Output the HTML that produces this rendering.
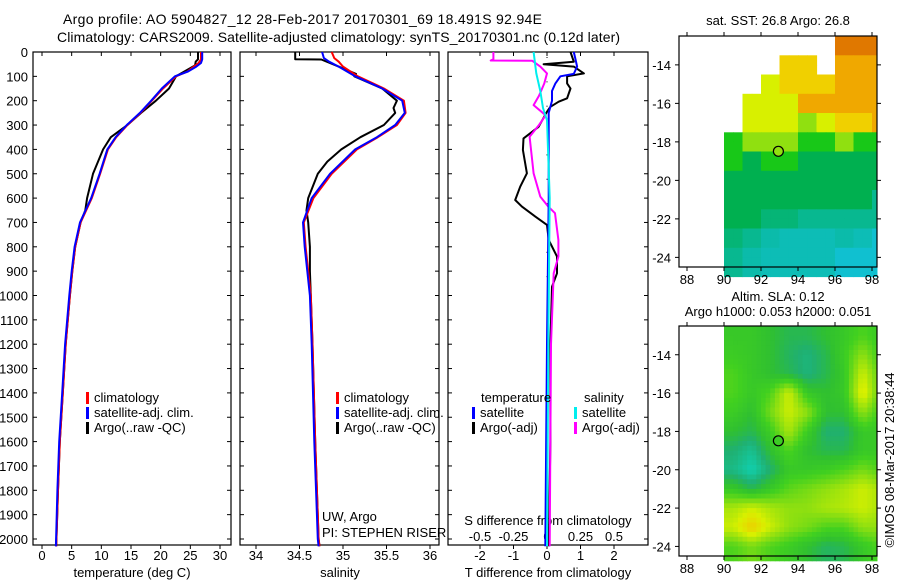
<!DOCTYPE html>
<html><head><meta charset="utf-8"><style>
body{margin:0;background:#fff}
svg{display:block;font-family:"Liberation Sans",sans-serif;font-size:13px}
</style></head><body>
<svg id="c" width="900" height="580" viewBox="0 0 900 580">
<text x="63" y="24" font-size="14" textLength="479">Argo profile: AO 5904827_12 28-Feb-2017 20170301_69 18.491S 92.94E</text>
<text x="57" y="42" font-size="14" textLength="563">Climatology: CARS2009. Satellite-adjusted climatology: synTS_20170301.nc (0.12d later)</text>
<g id="g"></g>
</svg>
<script>
// ---------- data ----------
const depthTicks=[0,100,200,300,400,500,600,700,800,900,1000,1100,1200,1300,1400,1500,1600,1700,1800,1900,2000];
const tTicks=[0,5,10,15,20,25,30];
const sTicks=[34,34.5,35,35.5,36];
const tdTicks=[-2,-1,0,1,2];
const sdTicks=[-0.5,-0.25,0,0.25,0.5];
const sdTickLabels=['-0.5','-0.25','0','0.25','0.5'];
const tClimD=[0,30,45,60,80,100,150,200,250,300,350,400,500,600,700,800,900,1000,1200,1400,1600,1800,2030];
const tClimV=[26.8,26.8,26.4,25.6,24.5,22.6,20.4,18.5,16.6,14.4,12.5,11.1,9.8,8.4,6.5,5.6,5.1,4.7,4.0,3.5,3.0,2.7,2.4];
const tSatV=[27.0,27.0,26.8,26.0,24.6,22.4,20.2,18.4,16.5,14.3,12.4,11.0,9.7,8.3,6.4,5.5,5.0,4.6,3.9,3.4,2.9,2.6,2.35];
const tArgoD=[0,30,40,55,80,100,150,200,250,300,350,400,500,600,650,700,800,900,1000,1200,1400,1600,1800,2030];
const tArgoV=[26.3,26.3,25.9,25.8,24.0,22.6,21.4,19.2,16.7,14.4,11.6,10.3,8.6,7.6,7.3,6.5,5.6,5.1,4.7,4.0,3.5,3.0,2.7,2.4];
const sClimD=[0,25,40,60,100,150,200,250,300,350,400,500,600,700,800,900,1000,1200,1600,2000,2030];
const sClimV=[34.87,34.9,34.95,35.0,35.17,35.47,35.7,35.72,35.62,35.4,35.16,34.87,34.66,34.55,34.57,34.6,34.63,34.65,34.68,34.72,34.73];
const sSatV=[34.76,34.78,34.84,34.95,35.14,35.45,35.68,35.71,35.6,35.39,35.14,34.85,34.64,34.54,34.56,34.59,34.62,34.64,34.67,34.71,34.72];
const sArgoD=[0,30,31,60,90,100,150,200,230,250,300,350,400,450,500,600,650,700,800,900,1000,1200,1600,2000,2030];
const sArgoV=[34.45,34.45,34.75,34.95,35.15,35.13,35.45,35.62,35.58,35.6,35.47,35.2,34.98,34.82,34.71,34.6,34.58,34.6,34.62,34.62,34.63,34.65,34.68,34.72,34.73];
const dTArgoD=[0,40,50,60,88,100,129,150,190,204,225,245,307,355,402,498,553,608,635,676,710,772,840,909,964,1200,1600,2030];
const dTArgoV=[0.7,0.8,-0.1,0.8,1.1,0.6,0.6,0.7,0.6,0.35,0.1,0,-0.25,-0.7,-0.72,-0.6,-0.8,-0.95,-0.75,-0.35,0,0.05,0.3,0.3,0.15,0.1,0.1,0.05];
const dTSatD=[0,30,60,90,100,129,160,200,250,600,1200,2030];
const dTSatV=[0.8,0.85,0.9,0.8,0.4,0.25,0.15,0.15,0.05,0.05,0.0,-0.05];
const dSArgoD=[0,30,35,36,60,88,129,180,218,260,300,348,498,594,635,662,772,840,909,1200,2030];
const dSArgoV=[-0.4,-0.4,-0.42,-0.11,-0.05,0.0,-0.02,-0.06,-0.1,-0.01,-0.06,-0.13,-0.1,-0.05,0.01,0.06,0.085,0.085,0.05,0.03,0.02];
const dSSatD=[0,88,160,230,280,600,1200,2030];
const dSSatV=[-0.1,-0.08,-0.05,-0.03,0.0,0.02,0.01,0.0];
const mapLonTicks=[88,90,92,94,96,98];
const mapLatTicks=[-14,-16,-18,-20,-22,-24];
// SST category grid, rows lat -13..-24 (centre), cols lon 90.5..98 ; 0 = missing
const sstRows=[
[0,0,0,0,0,0,8,8,8],
[0,0,0,6,6,0,7,7,7],
[0,0,5,6,6,6,7,7,7],
[0,5,5,5,7,7,7,7,7],
[0,5,5,5,4,5,6,6,7],
[3,4,4,4,3,3,4,3,3],
[3,2,3,3,2,2,2,2,2],
[2,2,2,2,2,2,2,2,2],
[2,2,2,2,2,2,2,2,1.5],
[2,2,1.7,1.7,1.5,1.5,1.5,1.5,1.5],
[1.7,1.5,1.3,1.2,1.2,1.2,1.3,1.2,1.0],
[1.5,1.3,1.2,1.2,1.2,1.2,1,0.8,0.6]];
const slaRows=[
[1.2,1.2,1,0.8,0.8,1,1.2,1.5,1.2],
[1.3,1.2,1,0.7,0.5,0.8,1.3,2,1.3],
[1.5,1.2,1,0.8,0.5,0.8,1.2,2.5,1.5],
[1.5,1.2,1.5,2.5,1.2,1,1.2,2.8,1.5],
[1.3,1,1.8,2.5,2,1,1,2,1.3],
[1,0.8,1.3,2.2,1.3,0.6,0.6,1.2,1.2],
[0.6,0.3,1,1.5,1,0.8,0.8,1.2,1.2],
[0.4,0,0.6,1.2,1.2,1.3,1.5,1.8,1.5],
[1.2,0.8,1.2,1.6,1.8,2,2.2,2.5,2.2],
[2.2,2.5,2.2,2,2,2.2,2.3,2.5,2.2],
[2.5,3.2,2.5,2,1.8,1.5,1.5,2,2],
[1.5,1.8,1.5,1.3,1,0.7,0.8,1.2,1.5]];
const argoLon=92.94, argoLat=-18.49;

// ---------- helpers ----------
const NS='http://www.w3.org/2000/svg';
const G=document.getElementById('g');
function mk(tag,attrs,parent){const e=document.createElementNS(NS,tag);for(const k in attrs)e.setAttribute(k,attrs[k]);(parent||G).appendChild(e);return e;}
function txt(x,y,s,anchor,parent,size){const t=mk('text',{x:x,y:y,'text-anchor':anchor||'middle'},parent);if(size)t.setAttribute('font-size',size);t.textContent=s;return t;}
const PT=52,PB=545;
const yD=d=>PT+d*0.2435;
const xT=v=>42+v*5.933;
const xS=v=>256+(v-34)*87;
const xdT=v=>547+v*33.5;
const xdS=v=>547+v*134;

function frame(x0,x1,name){
  const r=mk('rect',{x:x0,y:PT,width:x1-x0,height:PB-PT,fill:'none',stroke:'#000','stroke-width':1.2});
  
  
}
function line(D,V,fx,color,name){
  const p=D.map((d,i)=>(i?'L':'M')+fx(V[i]).toFixed(1)+','+yD(d).toFixed(1)).join('');
  const e=mk('path',{d:p,fill:'none',stroke:color,'stroke-width':2,'stroke-linejoin':'round'});
  
  
}
function xticks(vals,labels,fx,y,name){
  vals.forEach((v,i)=>{
    mk('line',{x1:fx(v),x2:fx(v),y1:PB,y2:PB+4,stroke:'#000'});
    mk('line',{x1:fx(v),x2:fx(v),y1:PT,y2:PT+4,stroke:'#000'});
    const t=txt(fx(v),y,labels[i]);
    
    
  });
}
function legendItem(x,y,color,label,name){
  mk('rect',{x:x,y:y-10,width:3,height:12,fill:color});
  const t=txt(x+8,y,label,'start');
  
  
}

// ---------- panel 1 temperature ----------
frame(33,231,'temperature-panel');
depthTicks.forEach(d=>{
  mk('line',{x1:33,x2:37,y1:yD(d),y2:yD(d),stroke:'#000'});
  mk('line',{x1:227,x2:231,y1:yD(d),y2:yD(d),stroke:'#000'});
  const t=txt(28,yD(d)+5,String(d),'end');
  
  
});
xticks(tTicks,tTicks.map(String),xT,560,'temperature-tick-label');
txt(132,577,'temperature (deg C)');
line(tArgoD,tArgoV,xT,'#000','temperature-argo-line');
line(tClimD,tClimV,xT,'#f00','temperature-climatology-line');
line(tClimD,tSatV,xT,'#00f','temperature-satellite-line');
legendItem(86,402,'#f00','climatology','legend-climatology');
legendItem(86,417,'#00f','satellite-adj. clim.','legend-satellite-adj');
legendItem(86,432,'#000','Argo(..raw -QC)','legend-argo');

// ---------- panel 2 salinity ----------
frame(240,439,'salinity-panel');
depthTicks.forEach(d=>{
  mk('line',{x1:240,x2:244,y1:yD(d),y2:yD(d),stroke:'#000'});
  mk('line',{x1:435,x2:439,y1:yD(d),y2:yD(d),stroke:'#000'});
});
xticks(sTicks,sTicks.map(String),xS,560,'salinity-tick-label');
txt(340,577,'salinity');
line(sArgoD,sArgoV,xS,'#000','salinity-argo-line');
line(sClimD,sClimV,xS,'#f00','salinity-climatology-line');
line(sClimD,sSatV,xS,'#00f','salinity-satellite-line');
legendItem(336,402,'#f00','climatology','legend-climatology-s');
legendItem(336,417,'#00f','satellite-adj. clim.','legend-satellite-adj-s');
legendItem(336,432,'#000','Argo(..raw -QC)','legend-argo-s');
txt(322,521,'UW, Argo','start');
txt(322,537,'PI: STEPHEN RISER','start');

// ---------- panel 3 differences ----------
frame(448,648,'difference-panel');
depthTicks.forEach(d=>{
  mk('line',{x1:448,x2:452,y1:yD(d),y2:yD(d),stroke:'#000'});
  mk('line',{x1:644,x2:648,y1:yD(d),y2:yD(d),stroke:'#000'});
  mk('rect',{x:546.5,y:yD(d)+5,width:1,height:1,fill:'#000'});
});
xticks(tdTicks,tdTicks.map(String),xdT,560,'t-diff-tick-label');
sdTicks.forEach((v,i)=>{const t=txt(xdS(v),541,sdTickLabels[i]);});
txt(548,525,'S difference from climatology');
txt(548,577,'T difference from climatology');
line(dTArgoD,dTArgoV,xdT,'#000','t-diff-argo-line');
line(dSArgoD,dSArgoV,xdS,'#f0f','s-diff-argo-line');
line(dTSatD,dTSatV,xdT,'#00f','t-diff-satellite-line');
line(dSSatD,dSSatV,xdS,'#0ee','s-diff-satellite-line');
txt(481,402,'temperature','start');
txt(584,402,'salinity','start');
legendItem(472,417,'#00f','satellite','legend-t-satellite');
legendItem(472,432,'#000','Argo(-adj)','legend-t-argo');
legendItem(574,417,'#0ee','satellite','legend-s-satellite');
legendItem(574,432,'#f0f','Argo(-adj)','legend-s-argo');

// ---------- maps ----------
const sstCols=['#ffffff','#10c0d0','#00b050','#18c818','#90e010','#d8f000','#f0d000','#f0a800','#e07800'];
function lerpC(a,b,t){const pa=[1,3,5].map(i=>parseInt(a.substr(i,2),16)),pb=[1,3,5].map(i=>parseInt(b.substr(i,2),16));return 'rgb('+pa.map((v,i)=>Math.round(v+(pb[i]-v)*t)).join(',')+')';}
function sstColor(v){const i=Math.floor(v),f=v-i;if(i>=8)return sstCols[8];return lerpC(sstCols[Math.max(i,1)],sstCols[Math.min(i+1,8)],i<1?0:f);}
const slaStops=[[0,'#10d0b0'],[0.6,'#20b070'],[1.0,'#30c030'],[1.4,'#40d020'],[2,'#90e010'],[2.6,'#d8f000'],[3.3,'#f0c800']];
function slaColor(v){for(let i=1;i<slaStops.length;i++){if(v<=slaStops[i][0]){const a=slaStops[i-1],b=slaStops[i];return lerpC(a[1],b[1],Math.max(0,(v-a[0])/(b[0]-a[0])));}}return slaStops[slaStops.length-1][1];}
function drawMap(top,bottom,rows,colorFn,name,smooth){
  const L=679,R=877;
  const xL=lon=>687+(lon-88)*18.5;
  const yL=lat=>top+(-12.5-lat)*(bottom-top)/12;
  const grp=mk('g',{});
  
  
  const step=smooth?0.25:0.5;
  for(let lat=-12.5;lat>-24.5-1e-6;lat-=step){
    for(let lon=90;lon<98.3-1e-6;lon+=step){
      const cl=lon+step/2, ct=lat-step/2;
      let fr=(-13-ct), fc=(cl-90.5);
      let v;
      if(smooth){
        fr=Math.max(0,Math.min(11,fr));fc=Math.max(0,Math.min(8,fc));
        const r0=Math.floor(fr),c0=Math.floor(fc),r1=Math.min(11,r0+1),c1=Math.min(8,c0+1),tr=fr-r0,tc=fc-c0;
        v=rows[r0][c0]*(1-tr)*(1-tc)+rows[r0][c1]*(1-tr)*tc+rows[r1][c0]*tr*(1-tc)+rows[r1][c1]*tr*tc;
      } else {
        const r=Math.max(0,Math.min(11,Math.round(fr))),c=Math.max(0,Math.min(8,Math.round(fc)));
        v=rows[r][c];
        if(v===0)continue;
      }
      const x0=xL(lon),x1=Math.min(xL(lon+step),R);
      mk('rect',{x:x0.toFixed(1),y:yL(lat).toFixed(1),width:(x1-x0+0.5).toFixed(1),height:(yL(lat-step)-yL(lat)+0.5).toFixed(1),fill:colorFn(v)},grp);
    }
  }
  const f=mk('rect',{x:L,y:top,width:R-L,height:bottom-top,fill:'none',stroke:'#000','stroke-width':1.2});
  
  
  mapLonTicks.forEach(lon=>{
    mk('line',{x1:xL(lon),x2:xL(lon),y1:bottom,y2:bottom+4,stroke:'#000'});
    mk('line',{x1:xL(lon),x2:xL(lon),y1:top,y2:top-4,stroke:'#000'});
    const t=txt(xL(lon),bottom+17,String(lon));
    
    
  });
  mapLatTicks.forEach(lat=>{
    mk('line',{x1:L,x2:L-4,y1:yL(lat),y2:yL(lat),stroke:'#000'});
    mk('line',{x1:R,x2:R+4,y1:yL(lat),y2:yL(lat),stroke:'#000'});
    const t=txt(L-8,yL(lat)+5,String(lat),'end');
    
    
  });
  const m=mk('circle',{cx:xL(argoLon),cy:yL(argoLat),r:5,fill:colorFn(smooth?1.3:4),stroke:'#000','stroke-width':1.2});
  
  
}
drawMap(36,267,sstRows,sstColor,'sst-map',false);
drawMap(326,556,slaRows,slaColor,'sla-map',true);
txt(778,25,'sat. SST: 26.8 Argo: 26.8');
txt(778,301,'Altim. SLA: 0.12');
txt(778,316,'Argo h1000: 0.053 h2000: 0.051');
const cr=txt(0,0,'©IMOS 08-Mar-2017 20:38:44');
cr.setAttribute('transform','translate(894,460) rotate(-90)');


</script>
</body></html>
